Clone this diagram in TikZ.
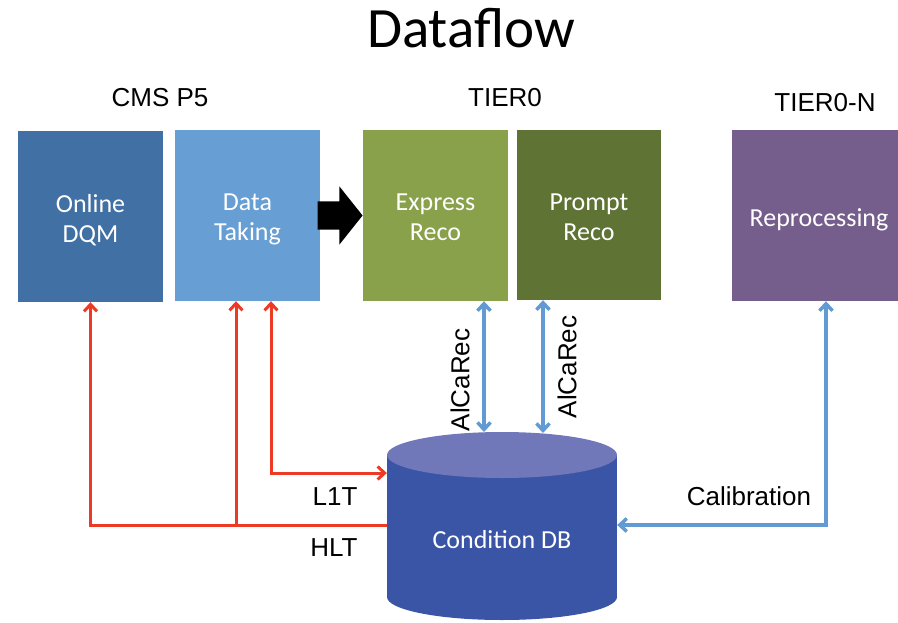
\documentclass[tikz,border=0pt]{standalone}
\usepackage{fontspec}
\setmainfont{Carlito}
\newfontfamily\arialfont{Liberation Sans}
\usetikzlibrary{shapes.arrows,arrows.meta}
\definecolor{dqmblue}{HTML}{4171A4}
\definecolor{takeblue}{HTML}{679ED4}
\definecolor{expgreen}{HTML}{89A14B}
\definecolor{promptgreen}{HTML}{5F7334}
\definecolor{repurple}{HTML}{765E8C}
\definecolor{dbblue}{HTML}{3B55A6}
\definecolor{dbtop}{HTML}{7178BA}
\definecolor{linkred}{HTML}{EC3A24}
\definecolor{linkblue}{HTML}{629BD3}

\begin{document}
\begin{tikzpicture}[x=1pt,y=-1pt,
		>={Straight Barb[length=7pt,width=13pt]},
		boxtext/.style={inner sep=0pt, text=white, align=center, font=\fontsize{26}{30}\selectfont},
		stage/.style={boxtext, minimum width=145pt, minimum height=171pt, text height=50pt, text depth=0pt},
		tag/.style={inner sep=0pt, font=\arialfont\fontsize{26}{30}\selectfont},
		redline/.style={draw=linkred, line width=3pt},
		blueline/.style={draw=linkblue, line width=3.5pt}]
		\useasboundingbox (0,0) rectangle (898,622);

		\node[font=\fontsize{57}{60}\selectfont, anchor=base] (title) at (471,47) {Dataflow};
		\node[tag] (cms) at (160,98) {CMS P5};
		\node[tag] (tier0) at (505,98) {TIER0};
		\node[tag] (tiern) at (825,103) {TIER0-N};

		\node[stage, fill=dqmblue, text height=51pt] (dqm) at (90.5,216.5) {Online\\DQM};
		\node[stage, fill=takeblue] (taking) at (247.5,215.5) {Data\\Taking};
		\node[stage, fill=expgreen] (express) at (435.5,215.5) {Express\\Reco};
		\node[stage, fill=promptgreen, minimum width=144pt, minimum height=170pt] (prompt) at (589,215) {Prompt\\Reco};
		\node[stage, fill=repurple, minimum width=174pt, text height=22pt] (repro) at (819,215.5) {Reprocessing};
		\node[single arrow, fill=black, anchor=tip, inner xsep=0pt, inner ysep=14pt, minimum width=58pt, minimum height=45pt, single arrow head extend=15pt, single arrow tip angle=103] (flow) at (express.west) {};

		\fill[dbblue] (387,455) rectangle (617,597);
		\fill[dbblue] (502,597) ellipse[x radius=115, y radius=23];
		\fill[dbtop] (502,455) ellipse[x radius=115, y radius=23];
		\node[minimum width=230pt, minimum height=188pt, inner sep=0pt] (db) at (502,526) {};
		\node[boxtext] (dbtext) at (502,540) {Condition DB};

		\coordinate (hltjoin) at (236,525);
		\coordinate (l1t) at (271,473);
		\draw[redline,->] (db.west |- hltjoin) -| (dqm.south);
		\draw[redline,->] (hltjoin) -- (taking.south -| hltjoin);
		\draw[redline,<->] (taking.south -| l1t) |- (db.west |- l1t);
		\node[tag] (l1tlabel) at (335,497) {L1T};
		\node[tag] (hltlabel) at (334,548) {HLT};

		\coordinate (alca1) at (484,432);
		\coordinate (alca2) at (543,433);
		\coordinate (calib) at (826,525);
		\draw[blueline,<->] (express.south -| alca1) -- (alca1);
		\draw[blueline,<->] (prompt.south -| alca2) -- (alca2);
		\draw[blueline,<->] (db.east |- calib) -| (repro.south -| calib);
		\node[tag, rotate=90] (alcalabel1) at (460,380) {AlCaRec};
		\node[tag, rotate=90] (alcalabel2) at (567,367) {AlCaRec};
		\node[tag] (caliblabel) at (749,496) {Calibration};

	\end{tikzpicture}
\end{document}
